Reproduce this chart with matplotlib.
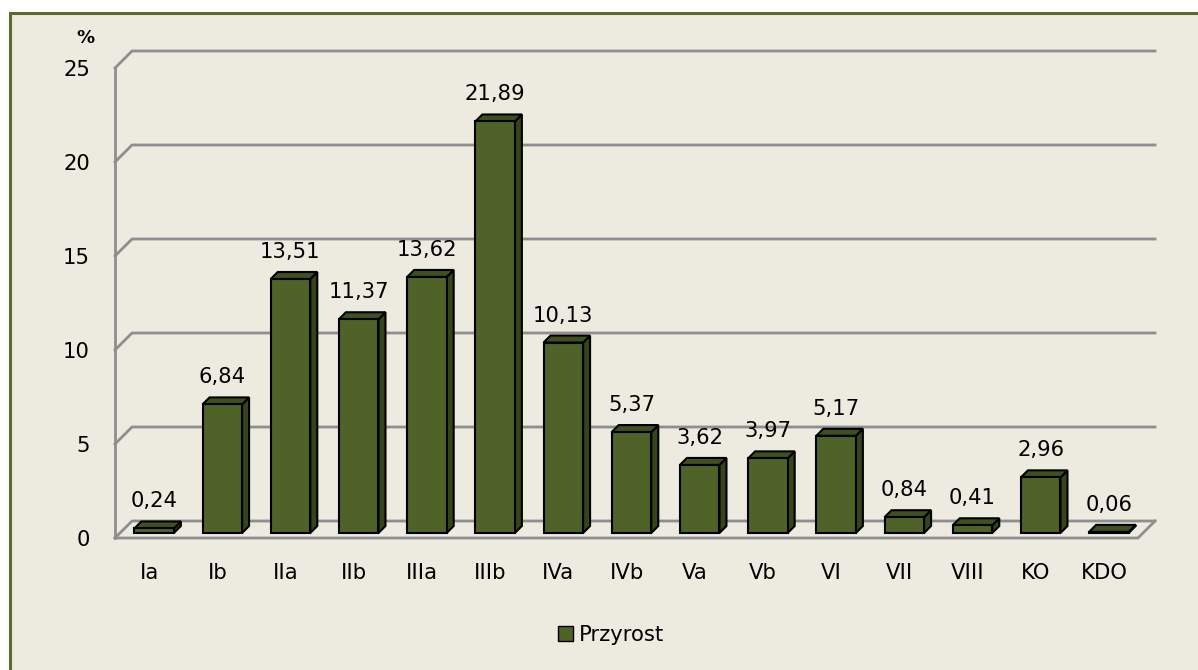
import matplotlib.pyplot as plt
from matplotlib.patches import Polygon, Rectangle, Patch

# dane
kategorie = ['Ia', 'Ib', 'IIa', 'IIb', 'IIIa', 'IIIb', 'IVa', 'IVb',
             'Va', 'Vb', 'VI', 'VII', 'VIII', 'KO', 'KDO']
przyrost = [0.24, 6.84, 13.51, 11.37, 13.62, 21.89, 10.13, 5.37,
            3.62, 3.97, 5.17, 0.84, 0.41, 2.96, 0.06]
y_ticks = [0, 5, 10, 15, 20, 25]

TLO = '#EDEAE0'
RAMKA = '#5A6B2E'
SIATKA = '#8E8E8E'
PRZOD = '#4F6228'
GORA = '#3F4F1E'
BOK = '#36441A'
FS = 15.2

fig = plt.figure(figsize=(11.98, 6.70), dpi=100)
fig.patch.set_facecolor('white')

# tło wykresu z ramką (przycięte z prawej i od dołu)
fig.add_artist(Rectangle((10 / 1198, -0.05), 1.2, (670 - 13) / 670 + 0.05,
                         transform=fig.transFigure, facecolor=TLO,
                         edgecolor=RAMKA, linewidth=2.2, zorder=-10))

ax = fig.add_axes([115 / 1198, 132 / 670, 1023 / 1198, 470 / 670])
ax.set_facecolor('none')
n = len(kategorie)
ax.set_xlim(-0.5, n - 0.5)
ax.set_ylim(0, 25)

# przeliczenie pikseli na jednostki danych
px_x = n / 1023
px_y = 25 / 470


def off(px):
    return px * px_x, px * px_y


wx, wy = off(17)   # głębokość ściany
fx, fy = off(5)    # przesunięcie przodu słupka
dx, dy = off(7)    # głębokość słupka

# linie siatki: ściana boczna + tylna
for v in y_ticks:
    ax.plot([-0.5, -0.5 + wx, n - 0.5 + wx], [v, v + wy, v + wy],
            color=SIATKA, lw=2, clip_on=False, zorder=1)
# podłoga
ax.plot([-0.5, n - 0.5, n - 0.5 + wx], [0, 0, wy],
        color=SIATKA, lw=2, clip_on=False, zorder=1)
ax.plot([-0.5, -0.5], [0, 25], color=SIATKA, lw=2, clip_on=False, zorder=1)

szer = 0.58
for i, v in enumerate(przyrost):
    x0 = i - szer / 2 + fx
    x1 = i + szer / 2 + fx
    y0 = fy
    y1 = v + fy
    front = Rectangle((x0, y0), x1 - x0, y1 - y0, facecolor=PRZOD,
                      edgecolor='black', lw=1.5, zorder=3, clip_on=False)
    top = Polygon([(x0, y1), (x1, y1), (x1 + dx, y1 + dy), (x0 + dx, y1 + dy)],
                  closed=True, facecolor=GORA, edgecolor='black', lw=1.5,
                  zorder=3, clip_on=False)
    side = Polygon([(x1, y0), (x1 + dx, y0 + dy), (x1 + dx, y1 + dy), (x1, y1)],
                   closed=True, facecolor=BOK, edgecolor='black', lw=1.5,
                   zorder=3, clip_on=False)
    ax.add_patch(side)
    ax.add_patch(top)
    ax.add_patch(front)
    ax.annotate(f'{v:.2f}'.replace('.', ','), (i, v), xytext=(5, 32),
                textcoords='offset pixels', ha='center', va='center',
                fontsize=FS, color='black', zorder=4)

for s in ax.spines.values():
    s.set_visible(False)
ax.set_xticks(range(n))
ax.set_xticklabels(kategorie)
ax.set_yticks(y_ticks)
ax.set_yticklabels([str(t) for t in y_ticks])
ax.tick_params(axis='both', length=0, labelsize=FS)
ax.tick_params(axis='y', pad=18)
ax.tick_params(axis='x', pad=18)

fig.text(85 / 1198, 1 - 38 / 670, '%', ha='center', va='center',
         fontsize=13, fontweight='bold')

uchwyt = Patch(facecolor=PRZOD, edgecolor='black', label='Przyrost')
fig.legend(handles=[uchwyt], loc='center', bbox_to_anchor=(611 / 1198, 1 - 635 / 670),
           frameon=False, fontsize=FS, handlelength=0.7, handleheight=0.7,
           handletextpad=0.3)

fig.savefig('out.png', dpi=100, facecolor='white')
